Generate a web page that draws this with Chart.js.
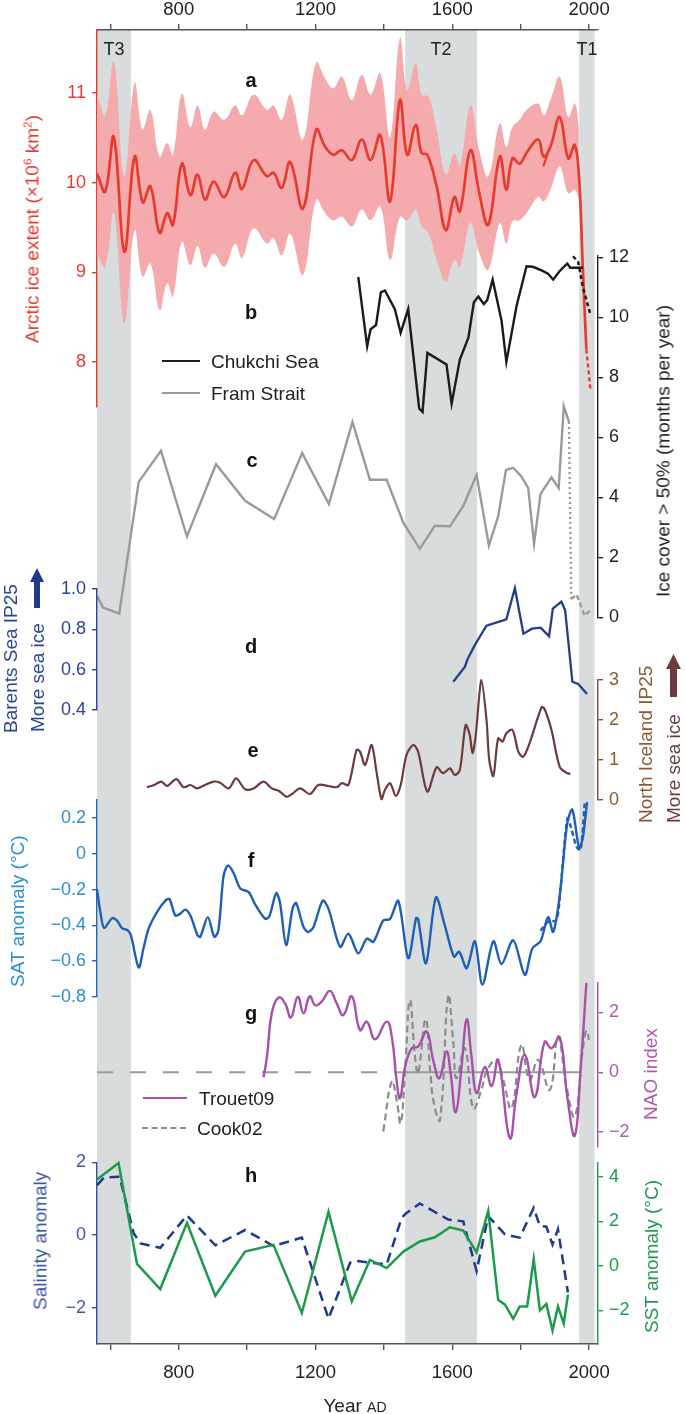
<!DOCTYPE html>
<html>
<head>
<meta charset="utf-8">
<script src="https://cdn.jsdelivr.net/npm/chart.js@4.4.1/dist/chart.umd.min.js"></script>
<style>
  body { margin: 0; background: #fff; }
  #fig { position: relative; width: 685px; height: 1414px; overflow: hidden;
         font-family: "Liberation Sans", Arial, Helvetica, sans-serif; font-size: 19px; }
  #fig canvas { position: absolute; left: 0; top: 0; }
  .t { position: absolute; white-space: nowrap; line-height: 1; transform: translate(-50%, -50%); }
  .l { position: absolute; white-space: nowrap; line-height: 1; transform: translate(0, -50%); }
  .up { position: absolute; white-space: nowrap; line-height: 1; transform-origin: 0 50%;
        transform: translate(0, -50%) rotate(-90deg); }
  .b { font-weight: bold; font-size: 20px; color: #111; }
  sup { font-size: 0.62em; line-height: 0; vertical-align: 0.6em; }
  .key { position: absolute; height: 0; }
</style>
</head>
<body>
<div id="fig">
  <canvas id="frame" width="685" height="1414"></canvas>
  <canvas id="pa" width="685" height="1414"></canvas>
  <canvas id="pbc" width="685" height="1414"></canvas>
  <canvas id="pd" width="685" height="1414"></canvas>
  <canvas id="pe" width="685" height="1414"></canvas>
  <canvas id="pf" width="685" height="1414"></canvas>
  <canvas id="pg" width="685" height="1414"></canvas>
  <canvas id="ph" width="685" height="1414"></canvas>

  <!-- axis titles -->
  <div class="up" style="left:32px;top:343px;color:#e63b2e">Arctic ice extent (×10<sup>6</sup> km<sup>2</sup>)</div>
  <div class="up" style="left:663px;top:597px;color:#222">Ice cover &gt; 50% (months per year)</div>
  <div class="up" style="left:10px;top:733px;color:#2a4597">Barents Sea IP25</div>
  <div class="up" style="left:37px;top:732px;color:#2a4597">More sea ice</div>
  <svg style="position:absolute;left:30px;top:568px" width="14" height="40"><polygon points="7,0 14,14 10,14 10,40 4,40 4,14 0,14" fill="#1f3a8a"/></svg>
  <div class="up" style="left:17px;top:987px;color:#2b8fd0">SAT anomaly (°C)</div>
  <div class="up" style="left:40px;top:1310px;color:#4055a8">Salinity anomaly</div>
  <div class="up" style="left:645px;top:823px;color:#8c5a32">North Iceland IP25</div>
  <div class="up" style="left:673px;top:823px;color:#6d3b3b">More sea ice</div>
  <svg style="position:absolute;left:666px;top:654px" width="15" height="43"><polygon points="7.5,0 15,15 11,15 11,43 4,43 4,15 0,15" fill="#6d3b3b"/></svg>
  <div class="up" style="left:650px;top:1120px;color:#b05ab0">NAO index</div>
  <div class="up" style="left:651px;top:1333px;color:#1d9a4a">SST anomaly (°C)</div>

  <!-- panel letters -->
  <div class="t b" style="left:251px;top:80px">a</div>
  <div class="t b" style="left:251px;top:312px">b</div>
  <div class="t b" style="left:252px;top:460px">c</div>
  <div class="t b" style="left:251px;top:646px">d</div>
  <div class="t b" style="left:253px;top:750px">e</div>
  <div class="t b" style="left:251px;top:860px">f</div>
  <div class="t b" style="left:251px;top:1013px">g</div>
  <div class="t b" style="left:251px;top:1175px">h</div>

  <!-- legends -->
  <div class="key" style="left:162px;top:360px;width:38px;border-top:2.6px solid #1b1b1b"></div>
  <div class="l" style="left:211px;top:361px;color:#222">Chukchi Sea</div>
  <div class="key" style="left:162px;top:392px;width:38px;border-top:2.6px solid #9a9a9a"></div>
  <div class="l" style="left:211px;top:393px;color:#222">Fram Strait</div>
  <div class="key" style="left:143px;top:1097px;width:44px;border-top:2.6px solid #a552a8"></div>
  <div class="l" style="left:199px;top:1098px;color:#222">Trouet09</div>
  <div class="key" style="left:142px;top:1127px;width:44px;border-top:2.6px dashed #8c8c8c"></div>
  <div class="l" style="left:197px;top:1128px;color:#222">Cook02</div>

  <div class="t" style="left:355px;top:1405px;color:#222">Year <span style="font-size:14px">AD</span></div>
</div>

<script>
// ---- data ----
const yearTicks = [600, 800, 1000, 1200, 1400, 1600, 1800, 2000];
const yearLabels = [800, 1200, 1600, 2000];
const bandNames = ['T3', 'T2', 'T1'];
const bandStarts = [561, 1462, 1971];
const bandEnds = [660, 1672, 2016];

// a: Arctic sea ice extent reconstruction
const iceYears = [561, 585, 610, 641, 671, 695, 717, 744, 766, 783, 809, 834, 855, 877, 902, 933, 965, 985, 1019, 1058, 1077, 1101, 1126, 1163, 1202, 1228, 1252, 1277, 1306, 1335, 1361, 1389, 1418, 1447, 1468, 1493, 1510, 1527, 1554, 1581, 1606, 1622, 1653, 1679, 1705, 1739, 1758, 1776, 1797, 1817, 1851, 1867, 1887, 1914, 1939, 1958, 1971, 1981, 1992];
const iceMean = [10.10, 9.90, 10.51, 9.23, 10.29, 9.78, 9.96, 9.44, 9.66, 9.53, 10.21, 9.86, 10.09, 9.81, 10.01, 9.84, 10.11, 9.93, 10.25, 10.07, 10.11, 9.94, 10.23, 9.71, 10.59, 10.40, 10.31, 10.36, 10.25, 10.48, 10.25, 10.53, 9.79, 10.92, 10.31, 10.64, 10.33, 10.31, 9.96, 9.47, 9.84, 9.68, 10.36, 9.88, 9.53, 10.29, 9.92, 10.27, 10.21, 10.33, 10.48, 10.29, 10.40, 10.73, 10.27, 10.42, 10.03, 9.10, 8.14];
const iceObsYears = [1992, 2004];
const iceObsVals = [8.14, 7.69];
const iceShortYears = [1866, 1884];
const iceShortVals = [10.18, 10.38];
const envYears = [561, 585, 610, 641, 671, 694, 717, 744, 766, 783, 809, 834, 855, 877, 902, 933, 965, 985, 1019, 1058, 1077, 1101, 1126, 1163, 1202, 1228, 1252, 1277, 1306, 1335, 1361, 1389, 1418, 1447, 1468, 1493, 1510, 1530, 1554, 1581, 1606, 1622, 1653, 1679, 1705, 1739, 1758, 1776, 1797, 1817, 1851, 1867, 1887, 1914, 1939, 1958, 1970];
const envUpper = [10.99, 10.75, 11.35, 10.07, 11.11, 10.59, 10.81, 10.29, 10.44, 10.31, 10.99, 10.62, 10.86, 10.59, 10.79, 10.70, 10.86, 10.75, 10.98, 10.81, 10.86, 10.70, 10.98, 10.48, 11.34, 11.16, 11.05, 11.18, 10.92, 11.20, 10.98, 11.22, 10.51, 11.61, 11.03, 11.33, 10.98, 10.96, 10.60, 10.09, 10.33, 10.18, 10.86, 10.36, 10.07, 10.66, 10.40, 10.62, 10.70, 10.81, 10.88, 10.75, 10.92, 11.18, 10.73, 10.88, 10.62];
const envLower = [9.21, 9.06, 9.66, 8.43, 9.47, 8.95, 9.10, 8.58, 8.88, 8.73, 9.34, 9.08, 9.29, 9.05, 9.21, 9.06, 9.32, 9.16, 9.49, 9.32, 9.38, 9.19, 9.43, 8.97, 9.81, 9.66, 9.58, 9.62, 9.51, 9.70, 9.58, 9.74, 9.14, 9.62, 9.58, 9.70, 9.51, 9.44, 9.14, 8.90, 9.14, 9.06, 9.55, 9.21, 9.03, 9.55, 9.32, 9.57, 9.58, 9.66, 9.84, 9.79, 9.92, 10.18, 9.88, 9.92, 9.81];

// b: Chukchi Sea ice cover (months per year)
const chukchiYears = [1325, 1351, 1361, 1377, 1391, 1403, 1432, 1449, 1471, 1503, 1513, 1527, 1583, 1598, 1622, 1647, 1663, 1676, 1692, 1702, 1718, 1744, 1758, 1788, 1817, 1836, 1861, 1880, 1895, 1914, 1936, 1945, 1982];
const chukchiVals = [11.35, 9.04, 9.61, 9.75, 10.84, 10.90, 10.28, 9.49, 10.28, 6.97, 6.85, 8.82, 8.43, 7.13, 8.60, 9.33, 10.51, 10.70, 10.45, 10.58, 11.26, 9.89, 8.52, 10.39, 11.71, 11.69, 11.57, 11.46, 11.26, 11.55, 11.80, 11.66, 11.66];
const chukchiObsYears = [1953, 1968, 1982, 2004];
const chukchiObsVals = [12.04, 11.85, 11.0, 10.1];

// c: Fram Strait ice cover (months per year)
const framYears = [561, 579, 626, 683, 748, 824, 909, 994, 1079, 1161, 1239, 1308, 1359, 1408, 1457, 1505, 1549, 1593, 1632, 1671, 1707, 1734, 1757, 1778, 1802, 1822, 1839, 1858, 1890, 1911, 1926, 1941];
const framVals = [0.72, 0.33, 0.13, 4.52, 5.56, 2.70, 5.11, 3.89, 3.28, 5.48, 3.78, 6.52, 4.59, 4.59, 3.15, 2.29, 3.06, 3.04, 3.72, 4.75, 2.40, 3.37, 4.92, 4.99, 4.70, 4.31, 2.46, 4.12, 4.67, 4.31, 7.04, 6.52];
const framGapYears = [1941, 1948];
const framGapVals = [6.52, 0.61];
const framObsYears = [1948, 1963, 1978, 1987, 2002];
const framObsVals = [0.61, 0.77, 0.33, 0.06, 0.22];

// d: Barents Sea IP25
const barentsYears = [1603, 1637, 1644, 1666, 1700, 1758, 1783, 1808, 1833, 1858, 1883, 1894, 1919, 1930, 1951, 1968, 1994];
const barentsVals = [0.54, 0.615, 0.65, 0.723, 0.818, 0.85, 1.004, 0.778, 0.803, 0.808, 0.766, 0.903, 0.937, 0.894, 0.54, 0.529, 0.479];

// e: North Iceland IP25
const icelandYears = [707, 728, 749, 766, 793, 814, 834, 853, 877, 902, 921, 946, 968, 994, 1019, 1048, 1072, 1092, 1116, 1131, 1155, 1184, 1208, 1238, 1262, 1277, 1296, 1320, 1330, 1345, 1364, 1379, 1393, 1403, 1418, 1435, 1449, 1466, 1486, 1500, 1527, 1554, 1573, 1593, 1607, 1622, 1639, 1651, 1659, 1668, 1685, 1700, 1708, 1720, 1734, 1747, 1758, 1776, 1793, 1807, 1826, 1861, 1870, 1890, 1914, 1934, 1945];
const icelandVals = [0.32, 0.375, 0.46, 0.35, 0.52, 0.32, 0.375, 0.29, 0.375, 0.46, 0.43, 0.29, 0.54, 0.27, 0.29, 0.46, 0.29, 0.23, 0.08, 0.15, 0.29, 0.15, 0.375, 0.35, 0.32, 0.42, 0.375, 1.25, 1.21, 0.875, 1.375, 0.67, 0.02, 0.25, 0.42, 0.10, 0.375, 1.125, 1.375, 1.21, 0.21, 0.82, 0.67, 0.79, 0.625, 0.75, 1.875, 1.625, 1.17, 1.58, 3.0, 2.0, 1.0, 0.6, 1.54, 1.46, 1.67, 1.75, 1.21, 1.08, 1.42, 2.32, 2.27, 1.75, 0.83, 0.68, 0.65];

// f: SAT anomaly (°C)
const satYears = [561, 571, 582, 605, 619, 634, 651, 660, 683, 697, 712, 736, 761, 773, 790, 804, 819, 834, 855, 863, 885, 904, 916, 931, 944, 960, 980, 1004, 1023, 1053, 1065, 1085, 1096, 1114, 1133, 1143, 1165, 1179, 1194, 1221, 1238, 1272, 1296, 1325, 1350, 1369, 1398, 1418, 1442, 1471, 1494, 1500, 1523, 1552, 1578, 1605, 1620, 1642, 1666, 1688, 1720, 1744, 1778, 1812, 1834, 1858, 1880, 1895, 1914, 1936, 1951, 1971, 1982, 1994];
const satVals = [-0.198, -0.327, -0.415, -0.36, -0.372, -0.415, -0.428, -0.455, -0.635, -0.528, -0.418, -0.327, -0.262, -0.253, -0.345, -0.336, -0.312, -0.345, -0.455, -0.464, -0.354, -0.464, -0.428, -0.125, -0.066, -0.106, -0.194, -0.213, -0.281, -0.363, -0.349, -0.22, -0.272, -0.51, -0.305, -0.275, -0.409, -0.437, -0.409, -0.262, -0.308, -0.52, -0.446, -0.556, -0.474, -0.492, -0.373, -0.364, -0.263, -0.584, -0.36, -0.364, -0.612, -0.244, -0.40, -0.575, -0.547, -0.639, -0.489, -0.731, -0.489, -0.617, -0.483, -0.676, -0.529, -0.489, -0.354, -0.437, -0.235, 0.169, 0.246, 0.031, 0.095, 0.288];
const satObsYears = [1858, 1880, 1904, 1916, 1936, 1945, 1963, 1975, 1987];
const satObsVals = [-0.43, -0.38, -0.37, -0.20, 0.196, 0.16, 0.04, 0.02, 0.28];

// g: NAO index
const trouetYears = [1048, 1058, 1072, 1092, 1111, 1128, 1148, 1165, 1183, 1199, 1218, 1242, 1262, 1281, 1306, 1330, 1350, 1374, 1408, 1423, 1437, 1447, 1462, 1481, 1500, 1525, 1544, 1562, 1583, 1595, 1610, 1627, 1642, 1656, 1671, 1695, 1715, 1734, 1768, 1788, 1812, 1841, 1870, 1890, 1914, 1936, 1958, 1975, 1992];
const trouetVals = [-0.17, 0.52, 1.97, 2.5, 2.3, 1.83, 2.52, 1.97, 2.54, 2.24, 2.36, 2.72, 2.3, 1.91, 2.54, 1.41, 1.69, 1.1, 1.69, 1.19, -0.26, -0.87, 0.19, 0.8, 0.86, 1.36, 0.41, -0.2, 0.69, -0.03, -1.34, 0.19, 1.77, 0.52, -0.7, 0.17, -0.46, 0.41, -2.2, -0.7, 0.58, -0.83, 1.02, 0.8, 1.17, -0.81, -2.12, 0.08, 2.99];
const cookYears = [1398, 1423, 1437, 1449, 1462, 1476, 1491, 1500, 1522, 1535, 1546, 1564, 1588, 1603, 1612, 1637, 1661, 1685, 1700, 1729, 1749, 1773, 1802, 1826, 1851, 1885, 1909, 1934, 1958, 1982, 1992, 2000];
const cookVals = [-1.98, -0.31, -0.92, -1.7, 0.08, 2.41, 0.52, -0.03, 1.77, 0.08, -1.03, -1.59, 2.54, 0.97, -0.2, 0.8, -1.2, -0.59, 0.02, 0.41, -0.26, -1.2, 0.91, -0.26, 0.41, -0.59, 1.19, -0.48, -1.48, 0.8, 1.39, 1.08];
const zeroDashYears = [561, 1440];
const zeroSolidYears = [1440, 1977];

// h: salinity anomaly and SST anomaly (°C)
const salYears = [561, 581, 627, 668, 688, 746, 824, 907, 994, 1077, 1160, 1238, 1301, 1316, 1408, 1452, 1466, 1505, 1588, 1632, 1671, 1705, 1754, 1797, 1838, 1856, 1875, 1893, 1909, 1938];
const salVals = [1.37, 1.58, 1.61, 0.06, -0.23, -0.35, 0.54, -0.28, 0.14, -0.30, -0.07, -2.30, -0.76, -0.71, -0.81, 0.48, 0.61, 0.87, 0.43, 0.38, -0.99, 0.52, 0.02, -0.07, 0.75, 0.25, 0.23, -0.26, 0.16, -1.58];
const sstYears = [561, 624, 678, 746, 824, 907, 994, 1077, 1160, 1238, 1306, 1359, 1408, 1457, 1505, 1549, 1593, 1632, 1671, 1705, 1734, 1754, 1778, 1797, 1819, 1838, 1856, 1875, 1893, 1909, 1926, 1938];
const sstVals = [3.87, 4.61, 0.09, -1.04, 1.93, -1.34, 0.64, 0.94, -2.11, 2.43, -1.59, 0.27, -0.10, 0.64, 1.09, 1.28, 1.73, 1.58, 0.60, 2.47, -1.52, -1.74, -2.37, -1.82, -1.82, 0.30, -1.99, -1.71, -2.89, -1.82, -2.59, -1.29];

// tick values
const iceTicks = [8, 9, 10, 11];
const coverTicks = [0, 2, 4, 6, 8, 10, 12];
const barentsTicks = [0.4, 0.6, 0.8, 1.0];
const icelandTicks = [0, 1, 2, 3];
const satTicks = [-0.8, -0.6, -0.4, -0.2, 0, 0.2];
const naoTicks = [-2, 0, 2];
const salTicks = [-2, 0, 2];
const sstTicks = [-2, 0, 2, 4];

// ---- layout ----
const family = '"Liberation Sans", Arial, Helvetica, sans-serif';
const W = 685, H = 1414, LEFT = 97, RIGHT = 598;
const X_MIN = 561, X_MAX = 2026;

const minus = v => (v < 0 ? '\u2212' + Math.abs(v) : String(v));
const oneDec = v => v.toFixed(1);

function pts(xs, ys) {
  return xs.map((x, i) => ({ x, y: ys[i] }));
}

function line(xs, ys, yAxisID, color, extra) {
  return Object.assign({
    data: pts(xs, ys), yAxisID, borderColor: color, borderWidth: 2.2,
    pointRadius: 0, tension: 0, fill: false, clip: false
  }, extra);
}

function yAxis(position, min, max, ticks, color, labelColor, fmt) {
  return {
    type: 'linear', position, min, max,
    afterFit: s => { s.width = position === 'left' ? LEFT : W - RIGHT; },
    afterBuildTicks: s => { s.ticks = ticks.map(v => ({ value: v })); },
    border: { color, width: 1.4 },
    grid: { drawOnChartArea: false, tickLength: 5, color, lineWidth: 1.4 },
    ticks: { color: labelColor, padding: 6, autoSkip: false, font: { family, size: 18 }, callback: fmt }
  };
}

function xAxis(position, height) {
  return {
    type: 'linear', position, min: X_MIN, max: X_MAX,
    afterFit: s => { s.height = height; },
    afterBuildTicks: s => { s.ticks = yearTicks.map(v => ({ value: v })); },
    border: { color: '#555', width: 1.4 },
    grid: { drawOnChartArea: false, tickLength: 6, color: '#555', lineWidth: 1.4 },
    ticks: {
      color: '#222', padding: position === 'top' ? 3 : 12, autoSkip: false, maxRotation: 0,
      font: { family, size: 18.5 }, callback: v => (yearLabels.includes(v) ? String(v) : '')
    }
  };
}

function panel(id, top, bottom, datasets, scales) {
  const sides = Object.values(scales).map(s => s.position);
  return new Chart(document.getElementById(id), {
    type: 'line',
    data: { datasets },
    options: {
      responsive: false, animation: false, events: [],
      layout: { padding: {
        top, bottom: H - bottom,
        left: sides.includes('left') ? 0 : LEFT,
        right: sides.includes('right') ? 0 : W - RIGHT
      } },
      plugins: { legend: { display: false }, tooltip: { enabled: false } },
      scales: Object.assign({ x: { type: 'linear', min: X_MIN, max: X_MAX, display: false } }, scales)
    }
  });
}

// grey time windows and their labels
const bandPlugin = {
  id: 'bands',
  beforeDraw(chart) {
    const { ctx, chartArea: a, scales: { x } } = chart;
    ctx.save();
    bandStarts.forEach((s, i) => {
      const x0 = x.getPixelForValue(s), x1 = x.getPixelForValue(bandEnds[i]);
      ctx.fillStyle = '#d9dcdc';
      ctx.fillRect(x0, a.top, x1 - x0, a.bottom - a.top);
      ctx.fillStyle = '#222';
      ctx.font = '18px ' + family;
      ctx.textAlign = 'center';
      ctx.textBaseline = 'middle';
      ctx.fillText(bandNames[i], (x0 + x1) / 2, a.top + 20);
    });
    ctx.restore();
  }
};

new Chart(document.getElementById('frame'), {
  type: 'line',
  data: { datasets: [] },
  options: {
    responsive: false, animation: false, events: [],
    layout: { padding: { top: 0, bottom: 0, left: LEFT, right: W - RIGHT } },
    plugins: { legend: { display: false }, tooltip: { enabled: false } },
    scales: { xTop: xAxis('top', 30), x: xAxis('bottom', H - 1344), y: { display: false } }
  },
  plugins: [bandPlugin]
});

// a
panel('pa', 30, 407, [
  line(iceYears, iceMean, 'ice', '#e63b2e', { borderWidth: 2.7, tension: 0.4, order: 1 }),
  line(iceObsYears, iceObsVals, 'ice', '#e63b2e', { borderWidth: 2.4, borderDash: [4, 3], order: 1 }),
  line(iceShortYears, iceShortVals, 'ice', '#e63b2e', { borderWidth: 2.2, order: 1 }),
  line(envYears, envUpper, 'ice', 'rgba(0,0,0,0)', { borderWidth: 0, tension: 0.4, fill: '+1', backgroundColor: '#f5aaad', order: 3 }),
  line(envYears, envLower, 'ice', 'rgba(0,0,0,0)', { borderWidth: 0, tension: 0.4, order: 3 })
], { ice: yAxis('left', 7.5, 11.7, iceTicks, '#e63b2e', '#e63b2e', minus) });

// b and c share one axis
panel('pbc', 256, 617.5, [
  line(chukchiYears, chukchiVals, 'cover', '#1b1b1b', { borderWidth: 2.4 }),
  line(chukchiObsYears, chukchiObsVals, 'cover', '#1b1b1b', { borderWidth: 2.4, borderDash: [4, 3] }),
  line(framYears, framVals, 'cover', '#9a9a9a', { borderWidth: 2.4 }),
  line(framGapYears, framGapVals, 'cover', '#9a9a9a', { borderWidth: 2.4, borderDash: [2, 3] }),
  line(framObsYears, framObsVals, 'cover', '#9a9a9a', { borderWidth: 2.4, borderDash: [5, 3] })
], { cover: yAxis('right', 0, 12.05, coverTicks, '#222', '#222', minus) });

// d
panel('pd', 589, 710, [
  line(barentsYears, barentsVals, 'barents', '#233e8b', { borderWidth: 2.3 })
], { barents: yAxis('left', 0.4, 1.0, barentsTicks, '#2a4597', '#2a4597', oneDec) });

// e
panel('pe', 680, 800, [
  line(icelandYears, icelandVals, 'iceland', '#6d3b3b', { borderWidth: 2.2, tension: 0.3 })
], { iceland: yAxis('right', 0, 3, icelandTicks, '#7d4a3a', '#8c5a32', minus) });

// f
panel('pf', 800, 997, [
  line(satYears, satVals, 'sat', '#1f5fb4', { borderWidth: 2.4, tension: 0.3 }),
  line(satObsYears, satObsVals, 'sat', '#1f5fb4', { borderWidth: 2.4, tension: 0.3, borderDash: [5, 3] })
], { sat: yAxis('left', -0.8, 0.3, satTicks, '#2a64b4', '#2b8fd0', minus) });

// g
panel('pg', 982.5, 1147, [
  line(trouetYears, trouetVals, 'nao', '#a552a8', { borderWidth: 2.4, tension: 0.45, order: 1 }),
  line(cookYears, cookVals, 'nao', '#8c8c8c', { borderWidth: 2.2, tension: 0.45, borderDash: [7, 4], order: 2 }),
  line(zeroDashYears, [0, 0], 'nao', '#9a9a9a', { borderWidth: 1.8, borderDash: [16, 17], order: 3 }),
  line(zeroSolidYears, [0, 0], 'nao', '#9a9a9a', { borderWidth: 1.8, order: 3 })
], { nao: yAxis('right', -2.5, 3, naoTicks, '#a552a8', '#b05ab0', minus) });

// h
panel('ph', 1162.5, 1344, [
  line(sstYears, sstVals, 'sst', '#1d9a4a', { borderWidth: 2.5 }),
  line(salYears, salVals, 'sal', '#1f3a8a', { borderWidth: 2.5, borderDash: [10, 6] })
], {
  sal: yAxis('left', -3, 2, salTicks, '#3a4fa0', '#4055a8', minus),
  sst: yAxis('right', -3.5, 4.63, sstTicks, '#1d9a4a', '#1d9a4a', minus)
});
</script>
</body>
</html>
